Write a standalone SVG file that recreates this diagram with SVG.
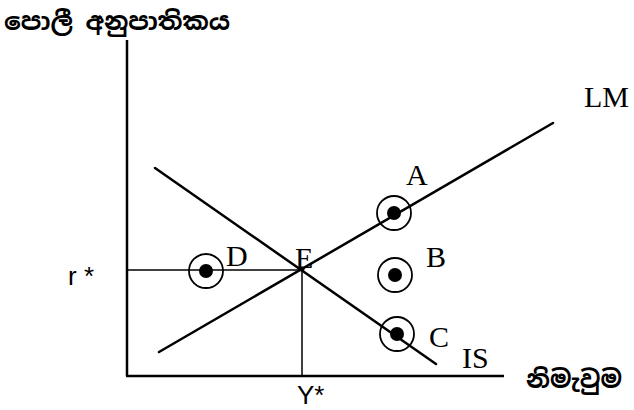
<svg xmlns="http://www.w3.org/2000/svg" width="634" height="410" viewBox="0 0 634 410">
<style>
.ax{stroke:#000;stroke-width:2.5;fill:none}
.ln{stroke:#000;stroke-width:2.5;fill:none;stroke-linecap:round}
.gd{stroke:#000;stroke-width:1.5;fill:none}
.ring{stroke:#000;stroke-width:1.8;fill:none}
.dot{fill:#000}
.lbl{font-family:"Liberation Serif","Times New Roman",serif;font-size:30px;fill:#000}
.sans{font-family:"Liberation Sans",Arial,sans-serif;font-size:26px;fill:#000}
.si{font-family:"Noto Sans Sinhala","Noto Sans","DejaVu Sans",sans-serif;font-size:25px;font-weight:bold;fill:#000}
</style>
<rect width="634" height="410" fill="#fff"/>
<g id="axes">
<line class="ax" x1="127" y1="40" x2="127" y2="376"/>
<line class="ax" x1="126" y1="376" x2="504" y2="376"/>
<text class="si" x="4" y="30">පොලී අනුපාතිකය</text>
<text class="si" x="526" y="388" textLength="96" lengthAdjust="spacingAndGlyphs">නිමැවුම</text>
</g>
<g id="connectors">
<line class="gd" x1="127" y1="270" x2="302" y2="270"/>
<line class="gd" x1="302" y1="270" x2="302" y2="376"/>
<line id="LM" class="ln" x1="159" y1="352" x2="553" y2="123"/>
<line id="IS" class="ln" x1="155" y1="168" x2="436" y2="364"/>
</g>
<g id="labels">
<text class="lbl" x="584" y="107" font-size="32">LM</text>
<text class="lbl" x="462" y="368">IS</text>
<text class="sans" x="68" y="285">r *</text>
<text class="sans" x="297" y="404">Y*</text>
</g>
<g id="A"><circle class="ring" cx="394" cy="213" r="17"/><circle class="dot" cx="394" cy="213" r="7"/><text class="lbl" x="406" y="185">A</text></g>
<g id="B"><circle class="ring" cx="395" cy="275" r="17"/><circle class="dot" cx="395" cy="275" r="7"/><text class="lbl" x="426" y="267">B</text></g>
<g id="C"><circle class="ring" cx="397" cy="334" r="17"/><circle class="dot" cx="397" cy="334" r="7"/><text class="lbl" x="429" y="347">C</text></g>
<g id="D"><circle class="ring" cx="206" cy="271" r="17"/><circle class="dot" cx="206" cy="271" r="7"/><text class="lbl" x="226" y="266">D</text></g>
<g id="E"><circle class="dot" cx="302" cy="269" r="2.5"/><text class="lbl" x="295" y="268">E</text></g>
</svg>
